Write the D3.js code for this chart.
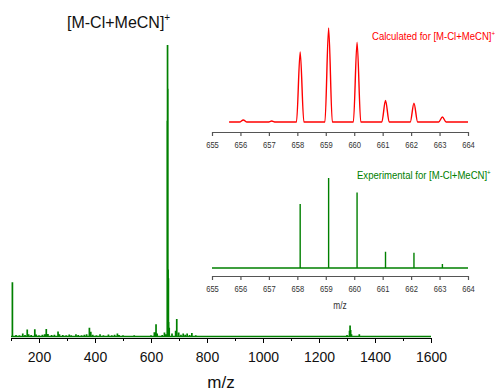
<!DOCTYPE html>
<html>
<head>
<meta charset="utf-8">
<script src="https://cdn.jsdelivr.net/npm/d3@7/dist/d3.min.js"></script>
<style>
  html, body { margin: 0; padding: 0; background: #fff; }
  svg { display: block; }
  text { font-family: "Liberation Sans", Arial, sans-serif; }
</style>
</head>
<body>
<svg id="chart" width="496" height="392"></svg>
<script>
// Full-range ESI mass spectrum (relative intensity, %)
const mainMz = [105, 118, 130, 142, 150, 158, 163, 172, 185, 190, 200, 212, 220, 226, 232, 245, 255, 268, 273, 285,
  297, 308, 315, 332, 340, 352, 362, 370, 380, 385, 392, 405, 418, 430, 448, 460, 470, 480, 486, 500,
  520, 540, 560, 580, 600, 612, 618, 622, 640, 648, 652, 658.1, 659.1, 660.1, 661.1, 662.1, 663.1, 665, 675, 688,
  692, 699, 707, 715, 722, 729, 738, 746, 760, 780, 800, 850, 900, 960, 1020, 1080, 1150, 1220, 1300, 1309,
  1311, 1313, 1316, 1344, 1380, 1450, 1520];
const mainInt = [18.6, 0.5, 0.4, 1.0, 0.5, 2.4, 0.8, 0.5, 2.5, 0.7, 0.4, 0.6, 0.8, 2.6, 0.9, 0.5, 0.6, 1.7, 0.8, 0.5,
  0.4, 0.7, 0.4, 0.8, 0.5, 0.4, 0.6, 0.8, 3.0, 1.6, 0.6, 0.4, 0.8, 0.4, 0.7, 0.4, 0.6, 1.0, 0.5, 0.4,
  0.3, 0.4, 0.3, 0.3, 0.4, 1.5, 4.2, 1.0, 0.5, 1.4, 0.8, 74, 100, 85, 23, 20, 5, 3.0, 1.0, 2.0,
  6.0, 1.4, 0.6, 1.0, 0.6, 1.0, 0.5, 1.2, 0.4, 0.3, 0.3, 0.2, 0.3, 0.2, 0.3, 0.2, 0.3, 0.2, 0.5, 2.0,
  3.8, 2.2, 0.8, 0.8, 0.3, 0.2, 0.2];
const mainTicks = [200, 400, 600, 800, 1000, 1200, 1400, 1600];
const mainMinorTicks = [100, 300, 500, 700, 900, 1100, 1300, 1500];

// Isotope pattern of [M-Cl+MeCN]+ : calculated and measured
const calcMz = [656.1, 657.1, 658.1, 659.1, 660.1, 661.1, 662.1, 663.1];
const calcInt = [2.2, 1.0, 74.5, 100, 85, 23, 20, 5.3];
const expMz = [656.1, 657.1, 658.1, 659.1, 660.1, 661.1, 662.1, 663.1];
const expInt = [0.8, 0.4, 71, 100, 84, 18, 17, 4.5];
const insetTicks = [655, 656, 657, 658, 659, 660, 661, 662, 663, 664];

const svg = d3.select("#chart");

// ---------- main spectrum ----------
const x = d3.scaleLinear().domain([100, 1600]).range([11, 431]);
const y = d3.scaleLinear().domain([0, 100]).range([336.5, 45]);

const mainPts = [[100, 0]];
mainMz.forEach((m, i) => { mainPts.push([m, 0], [m, mainInt[i]], [m, 0]); });
mainPts.push([1600, 0]);

svg.append("path")
  .datum(mainPts)
  .attr("fill", "none")
  .attr("stroke", "#008000")
  .attr("stroke-width", 1.7)
  .attr("d", d3.line().x(d => x(d[0])).y(d => y(d[1])));

const axisY = 338;
svg.append("g")
  .attr("transform", `translate(0,${axisY})`)
  .call(d3.axisBottom(x).tickValues(mainMinorTicks).tickSize(3).tickSizeOuter(0).tickFormat(""))
  .call(g => g.select(".domain").remove())
  .call(g => g.selectAll("line").attr("stroke", "#000"));

svg.append("g")
  .attr("transform", `translate(0,${axisY})`)
  .call(d3.axisBottom(x).tickValues(mainTicks).tickSize(5).tickSizeOuter(0).tickPadding(9)
    .tickFormat(d3.format("d")))
  .call(g => g.select(".domain").attr("stroke", "#000"))
  .call(g => g.selectAll("line").attr("stroke", "#000"))
  .call(g => g.selectAll("text").attr("font-size", 14).attr("fill", "#111")
    .attr("font-family", "'Liberation Sans', Arial, sans-serif"));

svg.append("text")
  .attr("x", 221).attr("y", 388)
  .attr("text-anchor", "middle")
  .attr("font-size", 17).attr("fill", "#111")
  .text("m/z");

const title = svg.append("text")
  .attr("x", 67).attr("y", 28)
  .attr("font-size", 16).attr("fill", "#111");
title.append("tspan").text("[M-Cl+MeCN]");
title.append("tspan").attr("font-size", 10).attr("dy", -7).text("+");

// ---------- insets ----------
const xi = d3.scaleLinear().domain([655, 664]).range([212, 468]);
const narrow = 0.8;   // horizontal squeeze for the condensed inset lettering

function insetAxis(yPos) {
  const g = svg.append("g")
    .attr("transform", `translate(0,${yPos})`)
    .call(d3.axisBottom(xi).tickValues(insetTicks).tickSize(4).tickSizeOuter(0).tickPadding(5));
  g.select(".domain").attr("stroke", "#555").attr("stroke-width", 1.2);
  g.selectAll("line").attr("stroke", "#555").attr("stroke-width", 1.2);
  g.selectAll("text").attr("font-size", 9.5).attr("fill", "#333")
    .attr("transform", `scale(${narrow},1)`);
  return g;
}

function condensedLabel(text, sup, xPos, yPos, size, color, sx) {
  const t = svg.append("text")
    .attr("transform", `translate(${xPos},${yPos}) scale(${sx},1)`)
    .attr("font-size", size).attr("fill", color);
  t.append("tspan").text(text);
  if (sup) t.append("tspan").attr("font-size", size * 0.65).attr("dy", -size * 0.4).text(sup);
  return t;
}

// calculated profile
const yc = d3.scaleLinear().domain([0, 100]).range([122, 28]);
const calcPts = [[655.6, 0]];
calcMz.forEach((m, i) => { calcPts.push([m - 0.13, 0], [m, calcInt[i]], [m + 0.13, 0]); });
calcPts.push([664, 0]);

svg.append("path")
  .datum(calcPts)
  .attr("fill", "none")
  .attr("stroke", "#ff0000")
  .attr("stroke-width", 1.4)
  .attr("d", d3.line().curve(d3.curveMonotoneX).x(d => xi(d[0])).y(d => yc(d[1])));

insetAxis(132);
condensedLabel("Calculated for [M-Cl+MeCN]", "+", 372, 40, 10.5, "#ff0000", 0.91);

// experimental sticks
const ye = d3.scaleLinear().domain([0, 100]).range([268, 178]);
const expPts = [[655, 0]];
expMz.forEach((m, i) => { expPts.push([m, 0], [m, expInt[i]], [m, 0]); });
expPts.push([664, 0]);

svg.append("path")
  .datum(expPts)
  .attr("fill", "none")
  .attr("stroke", "#008000")
  .attr("stroke-width", 1.4)
  .attr("d", d3.line().x(d => xi(d[0])).y(d => ye(d[1])));

insetAxis(276);

svg.append("text")
  .attr("transform", `translate(340,309) scale(${narrow},1)`)
  .attr("text-anchor", "middle")
  .attr("font-size", 10.5).attr("fill", "#333")
  .text("m/z");

condensedLabel("Experimental for [M-Cl+MeCN]", "+", 357, 179, 10.5, "#008000", 0.91);
</script>
</body>
</html>
